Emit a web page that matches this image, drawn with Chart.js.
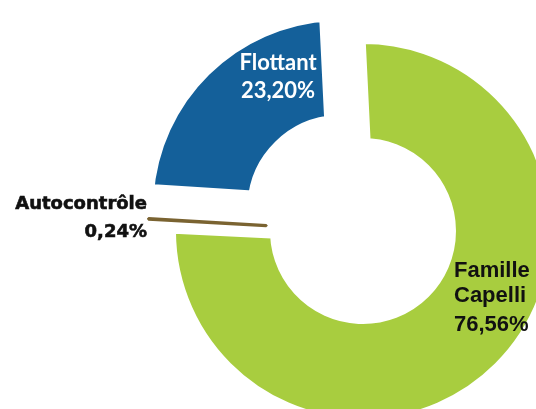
<!DOCTYPE html>
<html>
<head>
<meta charset="utf-8">
<script src="https://cdn.jsdelivr.net/npm/chart.js@4"></script>
<style>
  html, body { margin: 0; width: 536px; height: 409px; overflow: hidden; background: #fff; }
  /* the ring runs past the right and bottom edges of the page */
  #wrap { position: absolute; left: 0; top: 0; width: 726px; height: 462px; }
</style>
</head>
<body>
<div id="wrap"><canvas id="shareChart"></canvas></div>
<script>
const holders = ['Famille Capelli', 'Autocontrôle', 'Flottant'];
const shares = [76.56, 0.24, 23.20];
const sliceColours = ['#a8cd3f', '#7a6331', '#14609a'];

const formatShare = v => v.toFixed(2).replace('.', ',') + '%';

// where each label sits, measured from the centre of the ring
const labelStyles = [
    { lines: ['Famille', 'Capelli'], font: 'bold 22px "Liberation Sans"', colour: '#111', align: 'left', dx: 91, dy: [46, 71, 100] },
    { lines: ['Autocontrôle'], font: 'bold 18px "DejaVu Sans"', colour: '#111', align: 'right', dx: -216, dy: [-22, 6], heavy: true },
    { lines: ['Flottant'], font: 'bold 22px Lato', colour: '#fff', align: 'center', dx: -85, dy: [-161, -133] }
];

const shareLabels = {
    id: 'shareLabels',
    afterDatasetsDraw(chart) {
        const ctx = chart.ctx;
        const arc = chart.getDatasetMeta(0).data[0];
        const values = chart.data.datasets[0].data;
        ctx.save();
        ctx.textBaseline = 'alphabetic';
        labelStyles.forEach((style, i) => {
            const rows = style.lines.concat(formatShare(values[i]));
            ctx.font = style.font;
            ctx.fillStyle = style.colour;
            ctx.strokeStyle = style.colour;
            ctx.lineWidth = 0.6;
            ctx.textAlign = style.align;
            rows.forEach((row, j) => {
                const x = arc.x + style.dx;
                const y = arc.y + style.dy[j];
                ctx.fillText(row, x, y);
                if (style.heavy) {
                    ctx.strokeText(row, x, y);
                }
            });
        });
        ctx.restore();
    }
};

// a wide white border carves the gaps around the thin slice,
// so radius and cutout are set 12px wider than the visible ring
new Chart(document.getElementById('shareChart').getContext('2d'), {
    type: 'doughnut',
    data: {
        labels: holders,
        datasets: [{
            data: shares,
            backgroundColor: sliceColours,
            borderColor: ['#fff', sliceColours[1], '#fff'],
            borderWidth: [24, 3, 24],
            offset: [0, 32, 128],
            hoverOffset: 0
        }]
    },
    options: {
        responsive: true,
        maintainAspectRatio: false,
        animation: false,
        events: [],
        radius: 199,
        cutout: '40.7%',
        rotation: -2.8,
        layout: {
            padding: 0
        },
        plugins: {
            legend: {
                display: false
            },
            tooltip: {
                enabled: false
            }
        }
    },
    plugins: [shareLabels]
});
</script>
</body>
</html>
